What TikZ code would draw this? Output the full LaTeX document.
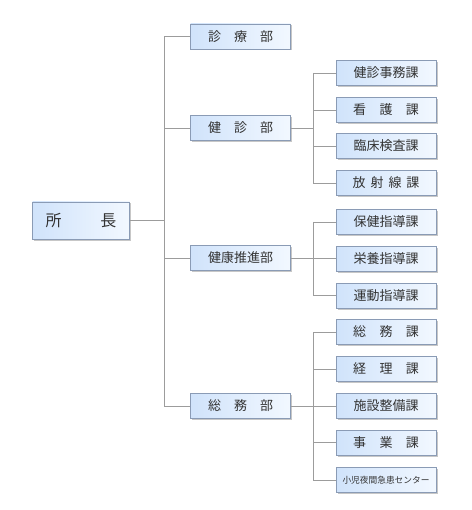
\documentclass[tikz,border=0pt]{standalone}
\usepackage{fontspec}
\newfontfamily\jp{Noto Sans CJK JP}
\usetikzlibrary{shadows}
\definecolor{boxL}{HTML}{D0E3FB}
\definecolor{boxR}{HTML}{F2F8FF}
\definecolor{boxB}{HTML}{8A9BB5}
\definecolor{lineC}{HTML}{9C9C9C}
\definecolor{txt}{HTML}{333333}
\begin{document}
\begin{tikzpicture}[x=1pt,y=-1pt,
  box/.style={draw=boxB, line width=0.8pt, left color=boxL, right color=boxR,
    minimum width=100pt, minimum height=25pt, inner sep=0pt,
    font=\jp\fontsize{13}{13}\selectfont, text=txt,
    drop shadow={shadow xshift=1.5pt, shadow yshift=-1.5pt, fill=black, opacity=0.22}},
  conn/.style={draw=lineC, line width=0.8pt}]
\useasboundingbox[fill=white] (0,0) rectangle (471,510);
% top
\node[box, minimum width=97pt, minimum height=37pt, font=\jp\fontsize{16}{16}\selectfont] (cho) at (81,220.5) {所\hspace{39pt}長};
% departments
\node[box] (b1) at (240.5,36.5) {診\hspace{13pt}療\hspace{13pt}部};
\node[box] (b2) at (240.5,128) {健\hspace{13pt}診\hspace{13pt}部};
\node[box] (b3) at (240.5,258) {健康推進部};
\node[box] (b4) at (240.5,406) {総\hspace{13pt}務\hspace{13pt}部};
% sections
\node[box] (k1) at (386,73) {健診事務課};
\node[box] (k2) at (386,110) {看\hspace{13.5pt}護\hspace{13.5pt}課};
\node[box] (k3) at (386,146) {臨床検査課};
\node[box] (k4) at (386,183) {放\hspace{5pt}射\hspace{5pt}線\hspace{5pt}課};
\node[box] (h1) at (386,222) {保健指導課};
\node[box] (h2) at (386,258.5) {栄養指導課};
\node[box] (h3) at (386,295.5) {運動指導課};
\node[box] (s1) at (386,332) {総\hspace{13.5pt}務\hspace{13.5pt}課};
\node[box] (s2) at (386,369) {経\hspace{13.5pt}理\hspace{13.5pt}課};
\node[box] (s3) at (386,406) {施設整備課};
\node[box] (s4) at (386,442.5) {事\hspace{13.5pt}業\hspace{13.5pt}課};
\node[box, font=\jp\fontsize{8.7}{8.7}\selectfont] (s5) at (386,480) {小児夜間急患センター};
% trunk coordinates
\coordinate (t1) at (164,0);
\coordinate (t2) at (313,0);
% main trunk
\draw[conn] (cho.east) -- (cho.east -| t1);
\draw[conn] (b1.west -| t1) -- (b4.west -| t1);
\foreach \n in {b1,b2,b3,b4} \draw[conn] (\n.west -| t1) -- (\n.west);
% groups
\draw[conn] (b2.east) -- (b2.east -| t2);
\draw[conn] (k1.west -| t2) -- (k4.west -| t2);
\foreach \n in {k1,k2,k3,k4} \draw[conn] (\n.west -| t2) -- (\n.west);
\draw[conn] (b3.east) -- (b3.east -| t2);
\draw[conn] (h1.west -| t2) -- (h3.west -| t2);
\foreach \n in {h1,h2,h3} \draw[conn] (\n.west -| t2) -- (\n.west);
\draw[conn] (b4.east) -- (b4.east -| t2);
\draw[conn] (s1.west -| t2) -- (s5.west -| t2);
\foreach \n in {s1,s2,s3,s4,s5} \draw[conn] (\n.west -| t2) -- (\n.west);
\end{tikzpicture}
\end{document}
